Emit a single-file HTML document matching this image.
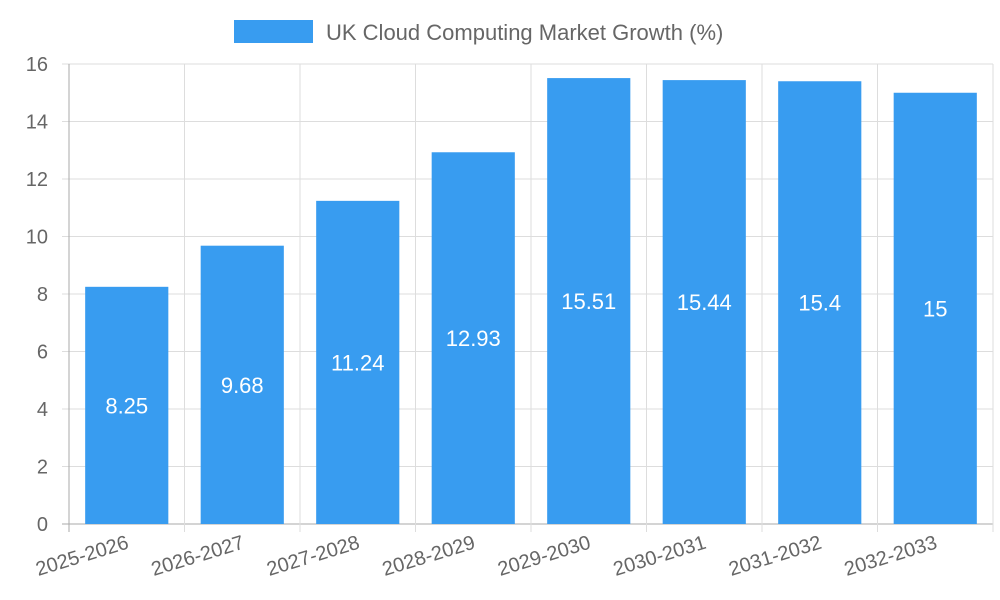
<!DOCTYPE html>
<html><head><meta charset="utf-8"><style>body{margin:0;background:#fff}svg{display:block;font-family:"Liberation Sans",sans-serif}</style></head>
<body>
<svg id="c" width="1000" height="600">
<rect x="234" y="20" width="79" height="23" fill="#389cf0"/>
<text x="326" y="40" font-size="22" fill="#666">UK Cloud Computing Market Growth (%)</text>
<g id="grid"></g><g id="bars"></g><g id="labels"></g>
</svg>
<script>
const categories=["2025-2026","2026-2027","2027-2028","2028-2029","2029-2030","2030-2031","2031-2032","2032-2033"];
const values=[8.25,9.68,11.24,12.93,15.51,15.44,15.4,15];
const yTicks=[0,2,4,6,8,10,12,14,16];
const NS="http://www.w3.org/2000/svg";
const L=69,R=993,T=64,B=524,yMax=16;
const y=v=>B-(v/yMax)*(B-T);
const bw=(R-L)/categories.length;
const x=i=>L+i*bw;
function mk(tag,attrs,parent){const e=document.createElementNS(NS,tag);for(const k in attrs)e.setAttribute(k,attrs[k]);parent.appendChild(e);return e;}
const g=document.getElementById('grid'),gb=document.getElementById('bars'),gl=document.getElementById('labels');
yTicks.forEach(t=>{
 const ln=mk('line',{x1:62,x2:R,y1:y(t),y2:y(t),stroke:t===0?'#aaa':'#ddd','stroke-width':1},g);
 
 
 const tx=mk('text',{x:48,y:y(t)+7,'font-size':20,fill:'#666','text-anchor':'end'},g);
 tx.textContent=t;
 
 
});
for(let i=0;i<=categories.length;i++){
 const ln=mk('line',{x1:x(i),x2:x(i),y1:T,y2:532,stroke:i===0?'#aaa':'#ddd','stroke-width':1},g);
 
 
}
categories.forEach((c,i)=>{
 const cx=x(i)+bw/2,w=bw*0.72;
 const r=mk('rect',{x:cx-w/2,y:y(values[i]),width:w,height:B-y(values[i]),fill:'#389cf0'},gb);
 
 
 const vt=mk('text',{x:cx,y:(y(values[i])+B)/2+8,'font-size':22,fill:'#fff','text-anchor':'middle'},gl);
 vt.textContent=values[i];
 
 
 const xt=mk('text',{x:0,y:0,'font-size':20,fill:'#666','text-anchor':'end',transform:`translate(${cx+3},${548}) rotate(-17)`},gl);
 xt.textContent=c;
 
 
});
</script>
</body></html>
